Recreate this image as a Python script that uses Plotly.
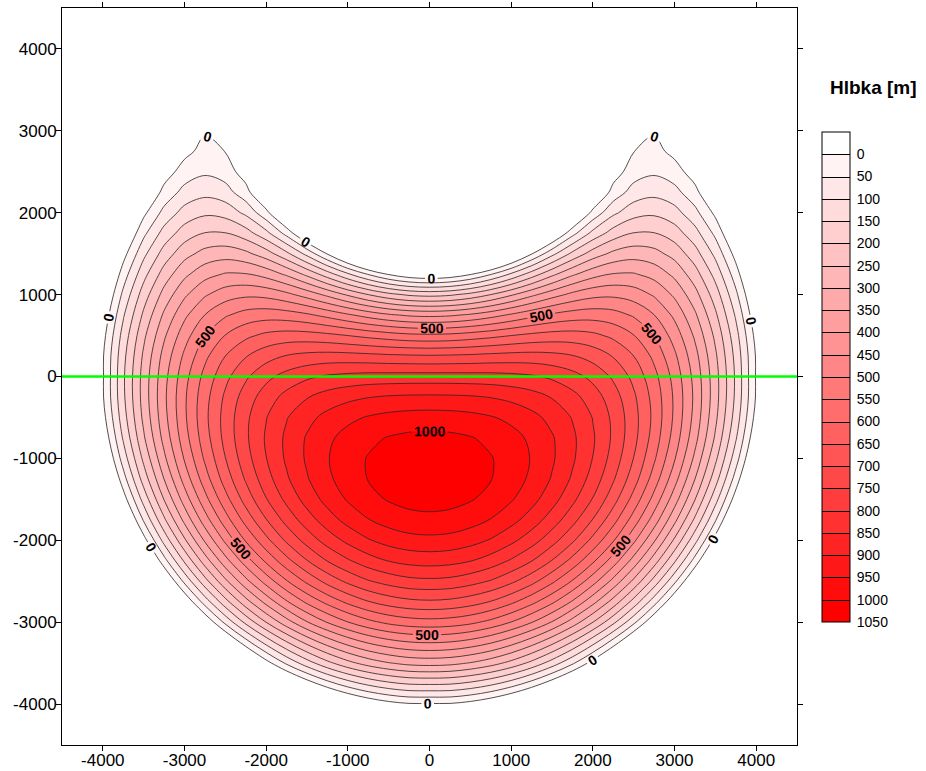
import plotly.graph_objects as go

# ---------------------------------------------------------------------------
# Data read from the map.  The basin is mirror-symmetric about x = 0, so the
# depths were read for x >= 0 (columns x_half) and mirrored for x < 0.
# Negative values = outside the basin (plotted white).
# ---------------------------------------------------------------------------
x_half = [0, 250, 500, 750, 1000, 1250, 1500, 1750, 2000, 2250, 2500,
          2750, 3000, 3250, 3500, 3750, 4000, 4250, 4500]
y_m = [-4500, -4000, -3500, -3000, -2750, -2500, -2250, -2000, -1750, -1500,
       -1250, -1000, -750, -500, -250, 0, 250, 500, 750, 1000, 1250, 1500,
       1750, 2000, 2250, 2500, 2750, 3000, 3250, 3500, 4000, 4500]

depth_half = [
    [-350, -354, -370, -396, -432, -478, -535, -601, -680, -766, -865, -971, -1090, -1218, -1360, -1506, -1670, -1835, -2020],
    [-5, -5, -20, -46, -82, -128, -184, -250, -327, -414, -511, -619, -736, -864, -1000, -1150, -1310, -1477, -1660],
    [319, 314, 297, 271, 234, 186, 127, 59, -21, -112, -213, -325, -447, -580, -726, -878, -1045, -1217, -1411],
    [582, 577, 562, 536, 499, 453, 397, 329, 251, 163, 63, -48, -169, -300, -443, -596, -761, -938, -1124],
    [693, 688, 673, 648, 612, 566, 511, 445, 367, 281, 182, 73, -47, -178, -320, -472, -635, -810, -993],
    [789, 785, 769, 746, 711, 667, 611, 546, 470, 385, 289, 181, 62, -68, -207, -359, -521, -694, -878],
    [871, 866, 852, 828, 794, 752, 698, 634, 560, 476, 381, 275, 158, 31, -108, -258, -419, -590, -772],
    [937, 933, 919, 896, 863, 822, 770, 709, 636, 555, 461, 357, 242, 117, -20, -168, -327, -498, -677],
    [987, 983, 970, 948, 917, 877, 827, 768, 698, 619, 528, 427, 314, 191, 56, -91, -249, -418, -598],
    [1020, 1016, 1004, 984, 955, 917, 870, 813, 747, 670, 582, 483, 373, 252, 119, -25, -181, -347, -524],
    [1036, 1032, 1021, 1002, 975, 940, 896, 843, 780, 706, 623, 527, 420, 301, 172, 29, -124, -289, -466],
    [1032, 1029, 1019, 1003, 979, 947, 907, 858, 799, 730, 649, 558, 455, 339, 212, 73, -78, -242, -415],
    [1014, 1011, 1003, 989, 968, 940, 905, 860, 806, 741, 666, 578, 479, 367, 243, 106, -44, -205, -380],
    [973, 971, 965, 954, 938, 915, 885, 847, 798, 739, 669, 587, 491, 383, 262, 128, -19, -179, -348],
    [909, 908, 905, 898, 887, 871, 847, 816, 775, 723, 659, 582, 492, 389, 271, 140, -5, -163, -333],
    [821, 821, 820, 819, 814, 806, 791, 768, 736, 692, 636, 566, 482, 383, 270, 142, -5, -154, -318],
    [705, 707, 710, 715, 719, 720, 715, 703, 681, 647, 600, 538, 460, 368, 259, 135, -5, -159, -326],
    [561, 564, 574, 586, 600, 613, 621, 622, 612, 589, 552, 499, 429, 342, 239, 119, -18, -169, -320],
    [388, 393, 408, 431, 458, 485, 509, 524, 529, 520, 494, 451, 389, 309, 210, 94, -40, -188, -348],
    [184, 192, 215, 250, 293, 338, 379, 413, 435, 440, 427, 394, 341, 268, 175, 62, -68, -214, -375],
    [-49, -38, -5, 46, 107, 173, 237, 291, 331, 353, 354, 332, 288, 222, 133, 24, -103, -244, -401],
    [-310, -294, -248, -180, -95, -4, 84, 162, 223, 262, 278, 267, 232, 171, 87, -19, -140, -280, -427],
    [-594, -573, -513, -420, -308, -188, -71, 32, 115, 172, 202, 202, 174, 119, 38, -67, -188, -324, -474],
    [-800, -800, -785, -666, -521, -367, -220, -90, 15, 89, 131, 141, 119, 66, -12, -118, -220, -373, -494],
    [-800, -800, -800, -800, -721, -531, -351, -195, -70, 19, 71, 86, 67, 16, -64, -164, -278, -409, -557],
    [-800, -800, -800, -800, -800, -660, -450, -270, -130, -25, 26, 42, 22, -25, -115, -225, -360, -504, -689],
    [-800, -800, -800, -800, -800, -800, -499, -304, -156, -56, -1, 16, -14, -74, -165, -271, -396, -536, -687],
    [-800, -800, -800, -800, -800, -728, -482, -286, -142, -50, -6, -5, -42, -113, -214, -340, -488, -634, -843],
    [-800, -800, -800, -800, -800, -800, -385, -207, -84, -40, -30, -40, -60, -148, -263, -400, -527, -683, -837],
    [-800, -800, -800, -800, -650, -420, -205, -220, -250, -200, -150, -110, -77, -180, -315, -470, -640, -820, -1025],
    [-800, -800, -800, -800, -800, -800, -800, -700, -600, -450, -300, -200, -110, -265, -435, -620, -820, -1020, -1240],
    [-800, -800, -800, -800, -800, -800, -800, -750, -700, -550, -400, -300, -195, -400, -610, -830, -1055, -1300, -1540],
]

# mirror about x = 0
x_m = [-v for v in x_half[:0:-1]] + x_half
depth_m = [row[:0:-1] + row for row in depth_half]

# Contour levels / colour bar
level_start = 0
level_end = 1000
level_step = 50
colorbar_ticks = list(range(0, 1051, 50))
labelled_levels = [0, 500, 1000]

# Profile line (green)
profile_x = [-4500, 4500]
profile_y = [0, 0]

axis_ticks = [-4000, -3000, -2000, -1000, 0, 1000, 2000, 3000, 4000]

# ---------------------------------------------------------------------------
SMOOTH = 1.0
LINE_COLOR = "#262626"
LINE_W = 0.8
LABEL_FONT = dict(family="Arial", size=14, color="#000000", weight="bold")

fig = go.Figure()

# Trace carrying the colour bar (0 at the top); it is fully covered by the next trace.
fig.add_trace(go.Contour(
    x=x_m, y=y_m, z=[[-v for v in row] for row in depth_m],
    colorscale=[[0, "#ff0000"], [1, "#ffffff"]],
    zauto=False, zmin=-level_end - level_step, zmax=level_step,
    contours=dict(start=-level_end, end=0, size=level_step, coloring="fill"),
    line=dict(color="#000000", width=1, smoothing=SMOOTH),
    showscale=True,
    colorbar=dict(
        x=(822 - 62) / 735, xanchor="left", xpad=0,
        y=(745 - 622) / 737, yanchor="bottom", ypad=0,
        len=490, lenmode="pixels", thickness=28, thicknessmode="pixels",
        outlinecolor="#000000", outlinewidth=1,
        tickvals=[-v for v in colorbar_ticks], ticktext=[str(v) for v in colorbar_ticks],
        ticks="outside", ticklen=4, tickcolor="rgba(0,0,0,0)",
        tickfont=dict(family="Arial", size=14, color="#000000"),
    ),
    hoverinfo="skip",
))

# Filled depth bands (no lines)
fig.add_trace(go.Contour(
    x=x_m, y=y_m, z=depth_m,
    colorscale=[[0, "#ffffff"], [1, "#ff0000"]],
    zauto=False, zmin=level_start - level_step, zmax=level_end + level_step,
    contours=dict(start=level_start, end=level_end, size=level_step,
                  coloring="fill", showlines=False),
    line=dict(width=0, smoothing=SMOOTH),
    showscale=False, hoverinfo="skip",
))

# Unlabelled contour lines
for s, e in [(50, 450), (550, 950)]:
    fig.add_trace(go.Contour(
        x=x_m, y=y_m, z=depth_m,
        contours=dict(start=s, end=e, size=level_step, coloring="none"),
        line=dict(color=LINE_COLOR, width=LINE_W, smoothing=SMOOTH),
        showscale=False, hoverinfo="skip",
    ))

# Labelled contour lines: one trace per level.  The extra (empty) levels above the
# data maximum only tighten plotly's label spacing so each line gets several labels.
SPAN = 1100
for lev in labelled_levels:
    n_levels = 1 if lev == 1000 else 140
    fig.add_trace(go.Contour(
        x=x_m, y=y_m, z=depth_m,
        contours=dict(start=lev, end=lev + SPAN * (n_levels - 1), size=SPAN,
                      coloring="none", showlabels=True, labelfont=LABEL_FONT,
                      labelformat=".0f"),
        line=dict(color=LINE_COLOR, width=LINE_W, smoothing=SMOOTH),
        showscale=False, hoverinfo="skip",
    ))

# Green profile line
fig.add_trace(go.Scatter(
    x=profile_x, y=profile_y, mode="lines",
    line=dict(color="#00ff00", width=2.5), showlegend=False, hoverinfo="skip",
))

axis_common = dict(
    showgrid=False, zeroline=False, showline=True, linecolor="#000000", linewidth=1,
    mirror="ticks", ticks="outside", ticklen=5, tickcolor="#000000",
    tickfont=dict(family="Arial", size=17, color="#000000"),
    tickvals=axis_ticks, ticktext=[str(v) for v in axis_ticks],
    automargin=False,
)

fig.update_layout(
    width=926, height=771, autosize=False,
    margin=dict(l=62, r=129, t=8, b=26),
    paper_bgcolor="#ffffff", plot_bgcolor="#ffffff",
    template="none",
    showlegend=False,
    xaxis=dict(range=[-4500, 4500], ticklabelstandoff=-5, **axis_common),
    yaxis=dict(range=[-4500, 4500], ticklabelstandoff=-4, **axis_common),
    annotations=[dict(
        text="<b>Hlbka [m]</b>", xref="paper", yref="paper",
        x=(873 - 62) / 735, y=(745 - 88) / 737, xanchor="center", yanchor="middle",
        showarrow=False, font=dict(family="Arial", size=19, color="#000000"),
    )],
)

fig.write_html("out.html", config={"displayModeBar": False},
               post_script="document.body.style.margin='0px';")
